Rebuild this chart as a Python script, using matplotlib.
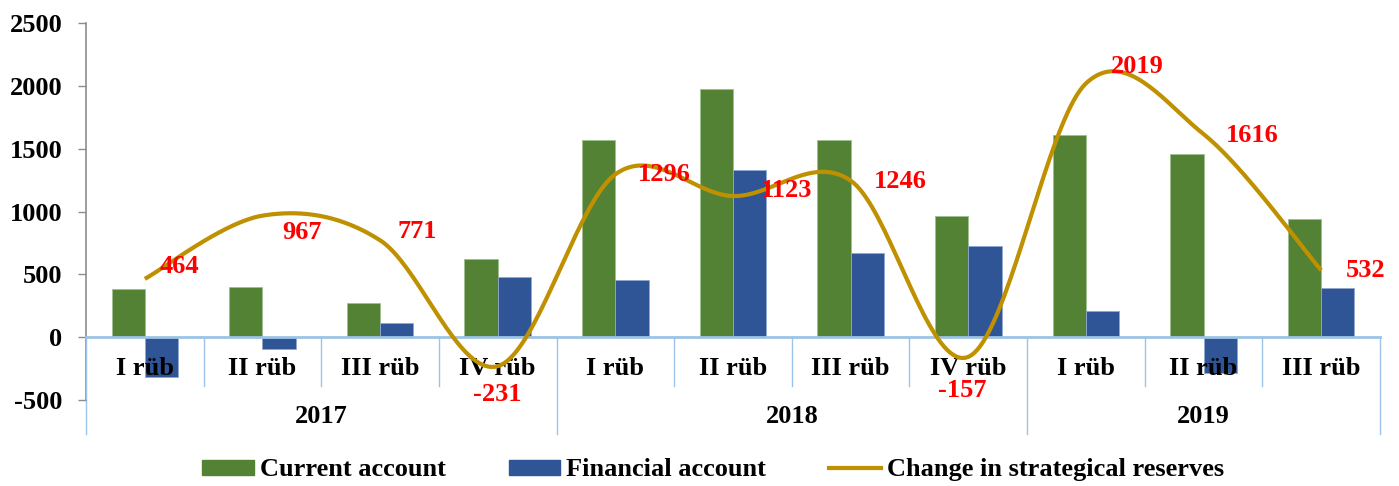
import numpy as np
import matplotlib.pyplot as plt
from matplotlib.patches import Patch
from matplotlib.lines import Line2D

# dati
quarters = ["I rüb", "II rüb", "III rüb", "IV rüb",
            "I rüb", "II rüb", "III rüb", "IV rüb",
            "I rüb", "II rüb", "III rüb"]
years = ["2017", "2018", "2019"]
quarters_per_year = [4, 4, 3]
current_account = [380, 400, 273, 621, 1566, 1978, 1571, 966, 1608, 1461, 940]
financial_account = [-318, -96, 115, 479, 458, 1333, 672, 725, 209, -285, 391]
reserves = [464, 967, 771, -231, 1296, 1123, 1246, -157, 2019, 1616, 532]

# spostamento etichette (pixel)
label_dx = [35, 40, 37, 0, 49, 54, 50, -6, 51, 49, 44]
label_dy = [12, -17, 9, -28, 0, 6, -1, -34, 17, -1, 0]

GREEN = "#548235"
BLUE = "#2F5597"
GOLD = "#BF9000"
SEP = "#9DC3E6"
FONT = "Liberation Serif"
FS = 19

plt.rcParams["font.family"] = FONT
plt.rcParams["font.weight"] = "bold"
plt.rcParams["axes.unicode_minus"] = False


def excel_smooth(x, y, n=40):
    # curva di Bezier come la linea "smussata" di Excel
    x = np.asarray(x, float)
    y = np.asarray(y, float)
    px = np.concatenate([[x[0]], x, [x[-1]]])
    py = np.concatenate([[y[0]], y, [y[-1]]])
    xs, ys = [], []
    t = np.linspace(0, 1, n)
    for i in range(1, len(px) - 2):
        p0 = np.array([px[i], py[i]])
        p3 = np.array([px[i + 1], py[i + 1]])
        p1 = p0 + (np.array([px[i + 1], py[i + 1]]) - np.array([px[i - 1], py[i - 1]])) / 6
        p2 = p3 - (np.array([px[i + 2], py[i + 2]]) - p0) / 6
        b = ((1 - t) ** 3)[:, None] * p0 + (3 * (1 - t) ** 2 * t)[:, None] * p1 \
            + (3 * (1 - t) * t ** 2)[:, None] * p2 + (t ** 3)[:, None] * p3
        xs.extend(b[:, 0])
        ys.extend(b[:, 1])
    return np.array(xs), np.array(ys)


fig = plt.figure(figsize=(13.99, 4.86), dpi=100)
ax = fig.add_axes([86 / 1399, (486 - 400) / 486, (1380 - 86) / 1399, (400 - 23) / 486])

x = np.arange(len(quarters))
w = 0.283
ax.bar(x - w / 2, current_account, w, color=GREEN, edgecolor="#9fbf8f", linewidth=0.6, zorder=2)
ax.bar(x + w / 2, financial_account, w, color=BLUE, edgecolor="#8fa8d0", linewidth=0.6, zorder=2)

sx, sy = excel_smooth(x, reserves)
ax.plot(sx, sy, color=GOLD, linewidth=3, zorder=5, clip_on=False, solid_capstyle="butt")

for i, v in enumerate(reserves):
    ax.annotate(str(v), (x[i], v), xytext=(label_dx[i], label_dy[i]),
                textcoords="offset pixels", ha="center", va="center",
                color="red", fontsize=FS, fontweight="bold", zorder=6,
                annotation_clip=False)

ax.set_xlim(-0.5, len(quarters) - 0.5)
ax.set_ylim(-500, 2500)
ax.set_yticks(range(-500, 2501, 500))
ax.set_xticks([])
for s in ["top", "right", "bottom", "left"]:
    ax.spines[s].set_visible(False)
ax.tick_params(axis="y", length=6, width=1, color="#8c8c8c", pad=11, labelsize=FS)
for lbl in ax.get_yticklabels():
    lbl.set_fontweight("bold")

# asse verticale grigio
ax.plot([-0.5, -0.5], [-500, 2500], color="#8c8c8c", linewidth=1.2, clip_on=False, zorder=1)
# asse categorie
ax.plot([-0.5, len(quarters) - 0.5], [0, 0], color=SEP, linewidth=2, clip_on=False, zorder=3)

for i, q in enumerate(quarters):
    ax.text(x[i], -246, q, ha="center", va="center", fontsize=FS, fontweight="bold", zorder=4)

# separatori trimestri e anni
bounds = np.cumsum([0] + quarters_per_year) - 0.5
for b in np.arange(-0.5, len(quarters), 1.0):
    low = -767 if b in bounds else -390
    ax.plot([b, b], [0, low], color=SEP, linewidth=1, clip_on=False, zorder=1)
for k, yr in enumerate(years):
    ax.text((bounds[k] + bounds[k + 1]) / 2, -632, yr, ha="center", va="center",
            fontsize=FS, fontweight="bold")

handles = [Patch(color=GREEN), Patch(color=BLUE), Line2D([], [], color=GOLD, linewidth=3)]
fig.legend(handles, ["Current account", "Financial account", "Change in strategical reserves"],
           loc="center", bbox_to_anchor=(713 / 1399, 0.033), ncol=3, frameon=False,
           prop={"family": FONT, "weight": "bold", "size": FS},
           handlelength=1.95, handleheight=0.5, handletextpad=0.22, columnspacing=2.4)

fig.savefig("out.png", dpi=100)
